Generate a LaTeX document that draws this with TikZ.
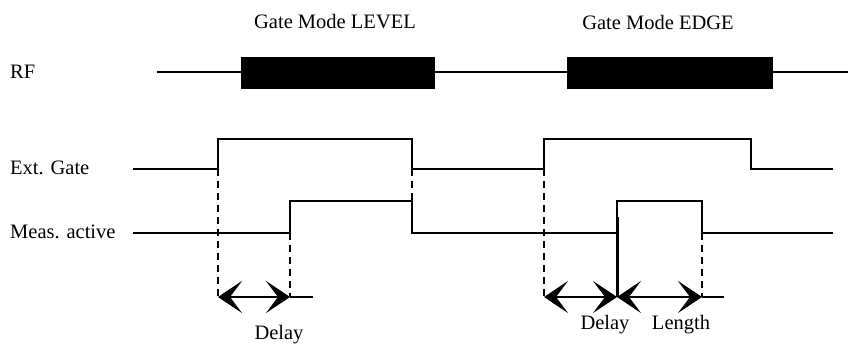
\documentclass[tikz,border=0pt]{standalone}
\usepackage{fontspec}
\setmainfont{Liberation Serif}
\usetikzlibrary{arrows.meta}
\tikzset{
  wave/.style={line width=1.6pt, line join=miter},
  burst/.style={fill=black},
  guide/.style={line width=1.4pt, dash pattern=on 7pt off 5pt},
  span/.style={line width=1.6pt,
    {Stealth[length=24pt, width=32pt, inset=12pt]}-{Stealth[length=24pt, width=32pt, inset=12pt]}},
  marker/.style={line width=3pt},
  signame/.style={anchor=west, inner sep=0pt},
  caption/.style={inner sep=0pt},
}
\begin{document}
\begin{tikzpicture}[x=1pt, y=-1pt, font=\fontsize{20.5}{24}\selectfont]
  \useasboundingbox (0,0) rectangle (848,347);
  % mode titles
  \node[caption] (level) at (335,22) {Gate Mode LEVEL};
  \node[caption] (edge) at (658,22) {Gate Mode EDGE};
  % signal names
  \node[signame] (rf) at (10,72) {RF};
  \node[signame] (gate) at (10,168) {Ext. Gate};
  \node[signame] (meas) at (10,232) {Meas. active};
  % RF line with two bursts
  \draw[wave] (157,72) -- (848,72);
  \fill[burst] (241,57) rectangle (435,89);
  \fill[burst] (567,57) rectangle (773,89);
  % external gate
  \draw[wave] (133,169) -- (218,169) -- (218,139) -- (412,139) -- (412,169)
    -- (544,169) -- (544,139) -- (751,139) -- (751,169) -- (833,169);
  % measurement active
  \draw[wave] (133,233) -- (290,233) -- (290,201) -- (412,201) -- (412,233)
    -- (617,233) -- (617,201) -- (702,201) -- (702,233) -- (833,233);
  % guide lines down to the spans
  \draw[guide] (218,169) -- (218,297);
  \draw[guide] (290,233) -- (290,297);
  \draw[guide] (412,169) -- (412,201);
  \draw[guide] (544,169) -- (544,297);
  \draw[guide] (702,233) -- (702,297);
  \draw[marker] (617,217) -- (617,297);
  % span end points
  \coordinate (d1a) at (218,297);
  \coordinate (d1b) at (290,297);
  \coordinate (d1x) at (313,297);
  \coordinate (d2a) at (544,297);
  \coordinate (d2b) at (617,297);
  \coordinate (l2b) at (702,297);
  \coordinate (l2x) at (724,297);
  % spans
  \draw[span] (d1a) -- (d1b);
  \draw[wave] (d1b) -- (d1x);
  \draw[span] (d2a) -- (d2b);
  \draw[span] (d2b) -- (l2b);
  \draw[wave] (l2b) -- (l2x);
  \node[caption] (delay1) at (279,335) {Delay};
  \node[caption] (delay2) at (605,325) {Delay};
  \node[caption] (length) at (681,325) {Length};
\end{tikzpicture}
\end{document}
